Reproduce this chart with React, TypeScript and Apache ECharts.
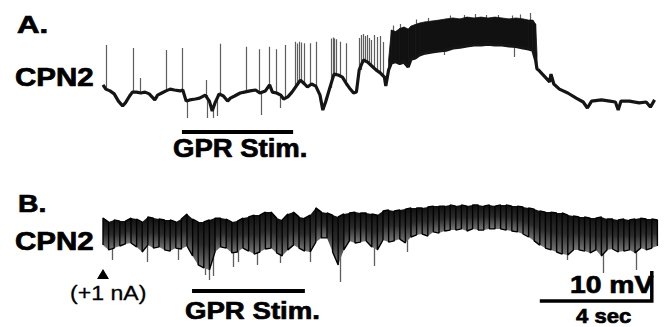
import React, { useEffect, useRef } from "react";
import * as echarts from "echarts";

// ---- Data (time in s, membrane potential in mV, relative) ----
// Trace A: baseline before the burst [t, mV]
const A_BASE: [number, number][] = [
  [0.0, 16.7], [0.1, 15.3], [0.25, 14.7], [0.4, 13.7], [0.55, 11.3], [0.7, 9.7], [0.8, 10.7], [0.95, 13],
  [1.05, 14.3], [1.2, 14.3], [1.35, 14], [1.5, 14.3], [1.65, 13.7], [1.85, 11.7], [1.95, 13.3], [2.1, 14],
  [2.25, 14.7], [2.4, 15.3], [2.55, 15], [2.75, 14.7], [2.85, 15], [2.97, 11.3], [3.1, 11.7], [3.3, 12],
  [3.45, 12.3], [3.65, 13.3], [3.8, 11.3], [3.9, 8], [4.0, 10.7], [4.15, 13.7], [4.3, 13], [4.45, 11.3],
  [4.55, 12.3], [4.7, 13], [4.9, 14], [5.05, 14.3], [5.25, 14.7], [5.45, 15], [5.6, 14], [5.8, 14.7],
  [5.95, 16.7], [6.05, 14.3], [6.2, 14], [6.35, 13.3], [6.45, 12], [6.6, 12.7], [6.75, 14.3], [6.9, 16.3],
  [7.05, 18.3], [7.2, 17], [7.3, 16], [7.45, 17], [7.6, 16.3], [7.75, 13.3], [7.85, 8.3], [7.95, 11],
  [8.1, 15.7], [8.25, 20.3], [8.4, 20], [8.55, 19.3], [8.7, 17], [8.8, 15.7], [8.95, 14], [9.05, 14.3],
  [9.15, 21.7], [9.3, 25], [9.45, 24.3], [9.6, 23], [9.75, 21.7], [9.9, 20.7], [10.05, 19.3], [10.1, 16.3],
];
// Trace A: burst envelope [t, low, high]
const A_BAND: [number, number, number][] = [
  [10.2, 21.7, 25], [10.3, 24, 35], [10.45, 24.5, 34.5], [10.6, 23.8, 35.5], [10.75, 24.3, 36],
  [10.9, 22.7, 35.3], [11.0, 25.3, 36.3], [11.15, 25.7, 36.8], [11.3, 26.7, 37.3], [11.5, 27.3, 37.7],
  [11.75, 27.7, 38], [12.0, 28, 38.3], [12.25, 28.3, 38.7], [12.5, 29, 39], [12.75, 29.3, 38.7],
  [13.0, 29.7, 39.3], [13.25, 30, 39], [13.5, 30, 39.3], [13.75, 30.3, 39], [14.0, 30, 39.3],
  [14.25, 30, 39], [14.5, 29.7, 38.7], [14.75, 29.5, 39], [15.0, 29, 38.7], [15.2, 28.7, 38.3],
  [15.35, 28.3, 38.3], [15.45, 25, 37], [15.5, 22, 27],
];
// Trace A: after the burst [t, mV]
const A_TAIL: [number, number][] = [
  [15.55, 21.7], [15.75, 19.7], [15.95, 17.7], [16.0, 20.3], [16.1, 17], [16.3, 15.3], [16.6, 14],
  [16.9, 12.3], [17.15, 11], [17.3, 9], [17.45, 11.3], [17.8, 11.7], [18.1, 11.3], [18.3, 11],
  [18.4, 8.3], [18.5, 11.3], [18.8, 11.3], [19.15, 10.7], [19.4, 11], [19.55, 9.3], [19.7, 11.7],
];
// Trace A: spikes [t, tip mV]
const A_SPIKES: [number, number][] = [
  [0.12, 30], [1.08, 29], [1.32, 19], [2.27, 28.3], [2.84, 29], [3.0, 5.7], [3.7, 18.3], [3.72, 5.7],
  [3.93, 5.7], [4.08, 6.3], [4.2, 30.4], [5.1, 29.4], [5.58, 28.6], [5.65, 6.7], [5.93, 29.4],
  [6.17, 28.6], [6.32, 9], [6.5, 30], [6.86, 31.1], [6.93, 30.5], [7.0, 31.1], [7.07, 30.8],
  [7.18, 30.6], [7.39, 30.6], [7.63, 31.1], [8.16, 32.2], [8.21, 32.5], [8.27, 32.2], [8.32, 31.9],
  [8.46, 31.1], [8.7, 30.6], [9.14, 32.3], [9.21, 33.3], [9.29, 33.7], [9.36, 33], [9.43, 33.3],
  [9.5, 32.3], [9.57, 31.7], [9.68, 33.3], [9.79, 32.7], [9.89, 33], [10.0, 31], [10.35, 36.5],
  [10.6, 37], [10.85, 22.3], [11.2, 38.5], [11.6, 39], [12.2, 26.7], [12.4, 39.8], [12.9, 40],
  [13.3, 40.3], [13.7, 40], [14.1, 40], [14.6, 39.8], [14.7, 26], [14.9, 40.2], [15.25, 40.7],
];

// Trace B: envelope sampled every 0.2 s
const B_DT = 0.2;
const B_HIGH = [
  32.3, 31, 31.7, 31.3, 31.3, 32.3, 32, 31, 32.7, 32.3,
  32, 31.7, 31.7, 31, 32, 33.7, 32, 31, 31, 31.7,
  32.3, 32.3, 32, 31, 31.3, 32.3, 32.7, 33.3, 33.3, 34.3,
  34.3, 32.3, 31.7, 33.7, 34.3, 32.7, 32.3, 33.3, 35.7, 34.3,
  34, 33.3, 32.7, 33.7, 34, 34.3, 34, 34, 33.7, 33.3,
  34.7, 35, 34.7, 35, 35.3, 35.7, 35.7, 35.7, 36, 36.3,
  36.3, 36.3, 36.7, 36.3, 36.7, 36.3, 36.7, 36.7, 36.3, 36.7,
  36.3, 36.7, 36.7, 36.3, 36.3, 36, 35.7, 35.3, 34.7, 34.3,
  34.3, 34, 34, 33.3, 33, 32.7, 32.7, 32.3, 32.3, 32.7,
  32, 32, 31.7, 32, 31.7, 32, 32.3, 32, 32, 31.7,
];
const B_LOW = [
  23.3, 21.7, 22.3, 23, 23.7, 24, 22.7, 21, 23.3, 22.3,
  22.7, 21.7, 21.3, 22.3, 22, 23, 19.7, 16.7, 15.7, 15,
  21, 22.7, 22.3, 20.7, 21, 22.3, 21.3, 20.3, 21, 22,
  22.3, 20.7, 19.7, 21.7, 23.3, 22.3, 21.3, 21, 24.3, 25.7,
  25.7, 21, 16.7, 21.7, 24.7, 24, 24.3, 24.7, 22.7, 21.7,
  25, 24.3, 24.7, 25.3, 24, 26, 26.7, 27, 26.3, 27.7,
  27.3, 28, 28.3, 28.3, 28.7, 28, 28.7, 28.3, 28.3, 28.7,
  28.7, 28.7, 28.3, 28, 27.7, 27, 26, 24.7, 23.3, 22.3,
  21.7, 21, 20.3, 20, 21.7, 21.7, 21.3, 20.7, 21.7, 19.7,
  21.7, 22, 21, 21.3, 21.7, 20.7, 22.3, 21.7, 22.3, 23,
];
// Trace B: brief hyperpolarising dips [t, tip mV]
const B_DIPS: [number, number][] = [
  [0.32, 18.3], [1.57, 17.7], [2.68, 18.3], [3.64, 13.3], [3.79, 11.7], [3.93, 13], [4.64, 16],
  [4.82, 17.7], [5.5, 16.7], [6.32, 17.3], [7.39, 17.7], [8.46, 11], [9.68, 16.3], [10.86, 21],
  [16.57, 18.3], [17.86, 14], [19.04, 15],
];

// Annotations
const STIM_A = { from: 2.82, to: 6.79, level: 1.23 };
const STIM_B = { from: 3.18, to: 7.21, level: 8.17 };
const CURRENT_ON: [number, number] = [0, 13.7]; // +1 nA marker
const SCALE = { t0: 15.6, secs: 4, v0: 4.67, mv: 10 };

function bandSeries(data: number[][], xi: number, fill: any, z: number, seam: number) {
  return {
    type: "custom",
    xAxisIndex: xi,
    yAxisIndex: xi,
    z,
    silent: true,
    data,
    encode: { x: 0, y: [1, 2] },
    renderItem: (params: any, api: any) => {
      const i = params.dataIndex;
      if (i >= data.length - 1) return null;
      const [t0, lo0, hi0] = data[i];
      const [t1, lo1, hi1] = data[i + 1];
      const pts = [api.coord([t0, hi0]), api.coord([t1, hi1]), api.coord([t1, lo1]), api.coord([t0, lo0])];
      return {
        type: "polygon",
        shape: { points: pts },
        style: seam > 0 ? { fill, stroke: fill, lineWidth: seam } : { fill },
      };
    },
  };
}

function nearest(arr: number[][], t: number): number[] {
  let best = arr[0];
  for (const p of arr) if (Math.abs(p[0] - t) < Math.abs(best[0] - t)) best = p;
  return best;
}

function label(text: string, x: number, y: number, size: number, scaleX: number, weight = "bold", stroke = 0.7) {
  return {
    type: "text",
    x,
    y,
    scaleX,
    silent: true,
    style: {
      text,
      fill: "#000",
      stroke: "#000",
      lineWidth: stroke,
      font: `${weight} ${size}px "Liberation Sans", Arial, sans-serif`,
      textAlign: "left",
      textVerticalAlign: "middle",
    },
  };
}

export default function App() {
  const ref = useRef<HTMLDivElement>(null);
  useEffect(() => {
    if (!ref.current) return;
    const chart = echarts.init(ref.current, undefined, { renderer: "svg" });

    const aLine: number[][] = [...A_BASE, ...A_BAND.map(([t, lo]) => [t, lo]), ...A_TAIL];
    const bBand = B_LOW.map((lo, i) => [+(i * B_DT).toFixed(2), lo, B_HIGH[i]]);
    const bZig: number[][] = [];
    bBand.forEach(([t, lo, hi], i) => {
      if (i % 2 === 0) bZig.push([t, lo], [t, hi]);
      else bZig.push([t, hi], [t, lo]);
    });

    const spikeLines = A_SPIKES.map(([t, tip]) => ({ coords: [[t, nearest(aLine, t)[1]], [t, tip]] }));
    const dipLines = B_DIPS.map(([t, tip]) => {
      const s = nearest(bBand, t);
      return { coords: [[t, (s[1] + s[2]) / 2], [t, tip]] };
    });

    const bFill = new echarts.graphic.LinearGradient(0, 0, 0, 1, [
      { offset: 0, color: "#101010" },
      { offset: 0.5, color: "#2c2c2c" },
      { offset: 1, color: "#7a7a7a" },
    ]);

    const lineSeries = (xi: number, data: any[], color: string, width: number, z: number, polyline = false) => ({
      type: "lines",
      coordinateSystem: "cartesian2d",
      xAxisIndex: xi,
      yAxisIndex: xi,
      polyline,
      silent: true,
      z,
      lineStyle: { color, width, opacity: 1, cap: "butt" },
      data,
    });

    chart.setOption({
      animation: false,
      backgroundColor: "#fff",
      grid: [
        { left: 103, top: 12, width: 560, height: 123 },
        { left: 103, top: 195, width: 560, height: 120 },
      ],
      xAxis: [
        { gridIndex: 0, type: "value", min: 0, max: 20, show: false },
        { gridIndex: 1, type: "value", min: 0, max: 20, show: false },
      ],
      yAxis: [
        { gridIndex: 0, type: "value", min: 0, max: 41, show: false },
        { gridIndex: 1, type: "value", min: 0, max: 40, show: false },
      ],
      series: [
        lineSeries(0, spikeLines, "#5e5e5e", 1.2, 2),
        bandSeries(A_BAND, 0, "#111", 3, 0.8),
        {
          type: "line",
          xAxisIndex: 0,
          yAxisIndex: 0,
          data: aLine,
          showSymbol: false,
          silent: true,
          z: 4,
          lineStyle: { color: "#151515", width: 3.2 },
        },
        lineSeries(0, [{ coords: [[STIM_A.from, STIM_A.level], [STIM_A.to, STIM_A.level]] }], "#000", 4, 5),

        lineSeries(1, dipLines, "#5e5e5e", 1.3, 2),
        bandSeries(bBand, 1, bFill, 3, 0),
        {
          type: "line",
          xAxisIndex: 1,
          yAxisIndex: 1,
          data: bZig,
          showSymbol: false,
          silent: true,
          z: 4,
          lineStyle: { color: "#000", width: 1.4 },
        },
        lineSeries(1, [{ coords: [[STIM_B.from, STIM_B.level], [STIM_B.to, STIM_B.level]] }], "#000", 4, 5),
        lineSeries(
          1,
          [{ coords: [[SCALE.t0, SCALE.v0], [SCALE.t0 + SCALE.secs, SCALE.v0], [SCALE.t0 + SCALE.secs, SCALE.v0 + SCALE.mv]] }],
          "#000",
          3.5,
          5,
          true
        ),
        {
          type: "scatter",
          xAxisIndex: 1,
          yAxisIndex: 1,
          data: [CURRENT_ON],
          symbol: "triangle",
          symbolSize: [12, 10],
          itemStyle: { color: "#000", opacity: 1 },
          clip: false,
          silent: true,
          z: 6,
        },
      ],
      graphic: [
        label("A.", 17, 25, 24, 1.3),
        label("CPN2", 15, 77.5, 25, 1.18),
        label("GPR Stim.", 173, 148, 25, 1.1),
        label("B.", 18, 204, 24, 1.18),
        label("CPN2", 15, 241.5, 25, 1.18),
        label("(+1 nA)", 70, 293, 21, 1.1, "normal", 0.3),
        label("GPR Stim.", 185, 310.5, 24, 1.15),
        label("10 mV", 570, 285, 24, 1.18),
        label("4 sec", 576, 316, 21, 1.05),
      ],
    });
    return () => chart.dispose();
  }, []);
  return (
    <div
      ref={ref}
      style={{ position: "fixed", left: 0, top: 0, width: 666, height: 327, background: "#fff" }}
    />
  );
}
